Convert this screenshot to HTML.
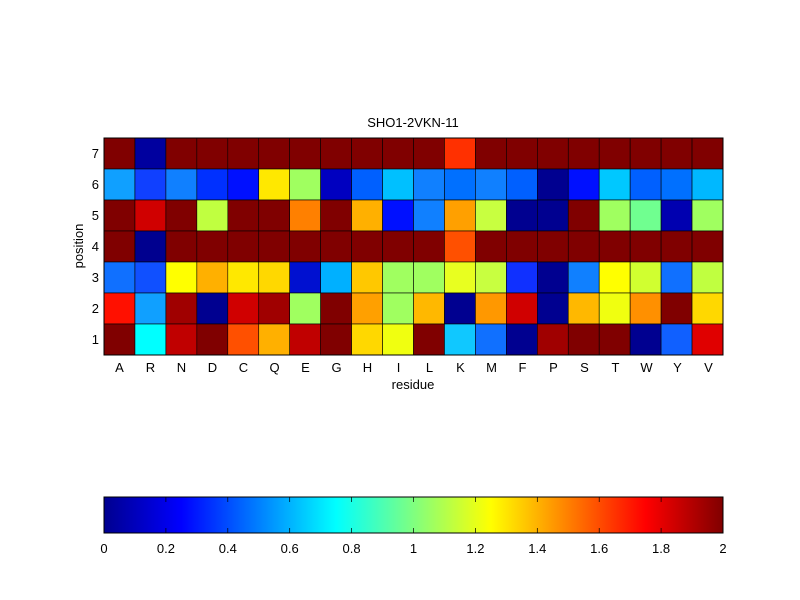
<!DOCTYPE html>
<html><head><meta charset="utf-8"><style>
html,body{margin:0;padding:0;background:#fff;width:800px;height:600px;overflow:hidden}
svg{display:block}
text{font-family:"Liberation Sans",Arial,sans-serif;font-size:13px;fill:#000}
</style></head><body>
<svg id="s" width="800" height="600" xmlns="http://www.w3.org/2000/svg">
<defs>
<linearGradient id="jet" x1="0" x2="1" y1="0" y2="0">
<stop offset="0" stop-color="#00008f"/>
<stop offset="0.125" stop-color="#0000ff"/>
<stop offset="0.375" stop-color="#00ffff"/>
<stop offset="0.625" stop-color="#ffff00"/>
<stop offset="0.875" stop-color="#ff0000"/>
<stop offset="1" stop-color="#800000"/>
</linearGradient>
</defs>
<rect width="800" height="600" fill="#fff"/>
<g id="cells"></g>
<rect x="104" y="138" width="619" height="217" fill="none" stroke="#000" stroke-width="1"/>
<text x="413" y="127" text-anchor="middle">SHO1-2VKN-11</text>
<g text-anchor="end">
<text x="99" y="158">7</text><text x="99" y="189">6</text><text x="99" y="220">5</text><text x="99" y="251">4</text><text x="99" y="282">3</text><text x="99" y="313">2</text><text x="99" y="344">1</text>
</g>
<g text-anchor="middle">
<text x="119.5" y="372">A</text><text x="150.5" y="372">R</text><text x="181.5" y="372">N</text><text x="212.5" y="372">D</text><text x="243.5" y="372">C</text><text x="274.5" y="372">Q</text><text x="305.5" y="372">E</text><text x="336.5" y="372">G</text><text x="367.5" y="372">H</text><text x="398.5" y="372">I</text><text x="429.5" y="372">L</text><text x="460.5" y="372">K</text><text x="491.5" y="372">M</text><text x="522.5" y="372">F</text><text x="553.5" y="372">P</text><text x="584.5" y="372">S</text><text x="615.5" y="372">T</text><text x="646.5" y="372">W</text><text x="677.5" y="372">Y</text><text x="708.5" y="372">V</text>
<text x="413" y="389">residue</text>
<text transform="translate(83,246) rotate(-90)">position</text>
</g>
<rect x="104" y="497" width="619" height="36" fill="url(#jet)" stroke="#000" stroke-width="1"/>
<g id="cbt"></g>
<g text-anchor="middle">
<text x="104" y="553">0</text><text x="165.9" y="553">0.2</text><text x="227.8" y="553">0.4</text><text x="289.7" y="553">0.6</text><text x="351.6" y="553">0.8</text><text x="413.5" y="553">1</text><text x="475.4" y="553">1.2</text><text x="537.3" y="553">1.4</text><text x="599.2" y="553">1.6</text><text x="661.1" y="553">1.8</text><text x="723" y="553">2</text>
</g>
</svg>
<script>
var D="#800000";
var rows=[
[D,"#00009f",D,D,D,D,D,D,D,D,D,"#ff3000",D,D,D,D,D,D,D,D],
["#10a0ff","#1040ff","#1080ff","#0030ff","#0010ff","#ffe800","#a0ff60","#0000c0","#0060ff","#00c0ff","#1080ff","#0070ff","#1080ff","#0060ff","#000090","#0010ff","#00c8ff","#0060ff","#0070ff","#00b8ff"],
[D,"#d00000",D,"#c0ff40",D,D,"#ff8000",D,"#ffb000","#0010ff","#1080ff","#ffa000","#c8ff40","#000090","#000090",D,"#a0ff60","#70ff90","#0000b0","#a0ff60"],
[D,"#00008f",D,D,D,D,D,D,D,D,D,"#ff5000",D,D,D,D,D,D,D,D],
["#1070ff","#1050ff","#ffff00","#ffb000","#ffe800","#ffd800","#0010d0","#00b0ff","#ffc800","#a0ff60","#a0ff60","#e8ff20","#c8ff40","#1030ff","#000090","#1080ff","#ffff00","#d0ff30","#1070ff","#c0ff40"],
["#ff1000","#10a0ff","#a00000","#000090","#d00000","#a00000","#a0ff60",D,"#ffa000","#a0ff60","#ffb800","#000090","#ff9800","#d00000","#000090","#ffb800","#f0ff10","#ff9000",D,"#ffd800"],
[D,"#00ffff","#c00000",D,"#ff5000","#ffb000","#c00000",D,"#ffd800","#f0ff10",D,"#10c8ff","#1070ff","#000090","#a00000",D,D,"#000090","#1060ff","#e00000"]];
var g=document.getElementById("cells"),h="";
for(var r=0;r<7;r++)for(var c=0;c<20;c++){h+='<rect x="'+(104+c*30.95)+'" y="'+(138+r*31)+'" width="30.95" height="31" fill="'+rows[r][c]+'" stroke="#000" stroke-width="0.6"/>';}
g.innerHTML=h;
var t="";
for(var i=1;i<10;i++){var x=104+i*61.9;t+='<line x1="'+x+'" y1="497" x2="'+x+'" y2="502" stroke="#000" stroke-width="0.7"/><line x1="'+x+'" y1="533" x2="'+x+'" y2="528" stroke="#000" stroke-width="0.7"/>';}
document.getElementById("cbt").innerHTML=t;
</script>
</body></html>
